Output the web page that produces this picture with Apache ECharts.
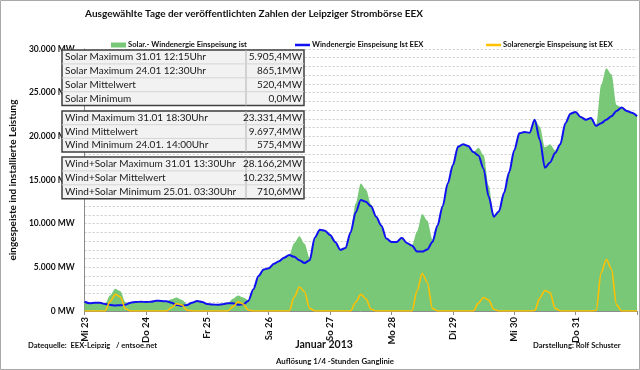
<!DOCTYPE html>
<html><head><meta charset="utf-8">
<script src="https://cdn.jsdelivr.net/npm/echarts@6/dist/echarts.min.js"></script>
<style>html,body{margin:0;padding:0;background:#fff}#c{width:640px;height:370px}</style>
</head><body><div id="c"></div>
<script>
// Day tick labels (x axis, one per day)
var dayLabels = ['Mi 23','Do 24','Fr 25','Sa 26','So 27','Mo 28','Di 29','Mi 30','Do 31',''];
var yTickLabels = ['0 MW','5.000 MW','10.000 MW','15.000 MW','20.000 MW','25.000 MW','30.000 MW'];
var stepsPerDay = 12; // 2-hour steps

// Wind feed-in (MW), every 2 hours from 23.01. 00:00 to 01.02. 00:00
var windMW = [
  1060, 880, 950, 950, 800, 700, 640, 660, 720, 950, 1030, 1060,
  1030, 1060, 1180, 1150, 1110, 950, 700, 580, 700, 950, 1150, 1030,
  800, 740, 720, 780, 880, 900, 720, 760, 1150, 2500, 4000, 4750,
  4900, 5400, 5700, 6100, 6400, 6200, 5800, 5500, 5800, 8400, 9300, 9200,
  8700, 7900, 7000, 7200, 9000, 11300, 12700, 12500, 12000, 10800, 9800, 8300,
  7900, 7900, 8400, 7800, 7500, 6800, 6800, 7050, 7900, 9800, 12000, 14600,
  16700, 18800, 19100, 18900, 18200, 17800, 16300, 13100, 10800, 11400, 13500, 15900,
  18400, 20350, 20500, 20400, 21900, 19600, 16400, 17000, 18100, 19100, 21500, 22600,
  22800, 22200, 21900, 22100, 21200, 21500, 21900, 22300, 22900, 23300, 22900, 22700,
  22300
];
// Solar feed-in (MW), same time steps
var solarMW = [
  0,0,0,0,0,1100,1900,1600,250,0,0,0,
  0,0,0,0,0,400,850,700,100,0,0,0,
  0,0,0,0,0,500,1050,800,120,0,0,0,
  0,0,0,0,0,1600,2750,2200,300,0,0,0,
  0,0,0,0,0,1000,1900,1400,200,0,0,0,
  0,0,0,0,0,2300,4300,3300,300,0,0,0,
  0,0,0,0,0,900,1550,1250,200,0,0,0,
  0,0,0,0,50,1500,2350,2100,300,0,0,0,
  0,0,0,0,50,4400,5900,4800,700,0,0,0,
  0
];

var seriesNames = ['Solar.- Windenergie Einspeisung ist','Windenergie Einspeisung Ist EEX','Solarenergie Einspeisung ist EEX'];

var tableSolar = [
  ['Solar Maximum 31.01 12:15Uhr','5.905,4MW'],
  ['Solar Maximum 24.01 12:30Uhr','865,1MW'],
  ['Solar Mittelwert','520,4MW'],
  ['Solar Minimum','0,0MW']
];
var tableWind = [
  ['Wind Maximum 31.01 18:30Uhr','23.331,4MW'],
  ['Wind Mittelwert','9.697,4MW'],
  ['Wind Minimum 24.01. 14:00Uhr','575,4MW']
];
var tableSum = [
  ['Wind+Solar Maximum 31.01 13:30Uhr','28.166,2MW'],
  ['Wind+Solar Mittelwert','10.232,5MW'],
  ['Wind+Solar Minimum 25.01. 03:30Uhr','710,6MW']
];

var categories = windMW.map(function(v,i){ return i % stepsPerDay === 0 ? dayLabels[i/stepsPerDay] : ''; });

var FONT = 'Lato';
var GREEN = '#78c878';
var BLUE = '#1010f0';
var GOLD = '#ffc000';

function tableGraphics(rows, x0, y0, rowH, x1, xDiv){
  var els = [];
  var h = rows.length*rowH;
  els.push({type:'rect', shape:{x:x0,y:y0,width:x1-x0,height:h}, style:{fill:'#f2f2f2', stroke:'#404040', lineWidth:1.5}, z:100});
  els.push({type:'line', shape:{x1:xDiv,y1:y0,x2:xDiv,y2:y0+h}, style:{stroke:'#b0b0b0', lineWidth:1}, z:101});
  for (var i=1;i<rows.length;i++){
    els.push({type:'line', shape:{x1:x0,y1:y0+i*rowH,x2:x1,y2:y0+i*rowH}, style:{stroke:'#d4d4d4', lineWidth:1}, z:101});
  }
  rows.forEach(function(r,i){
    var cy = y0 + i*rowH + rowH/2;
    els.push({type:'text', x:x0+3, y:cy, style:{text:r[0], font:'10px '+FONT, fill:'#1a1a1a', textVerticalAlign:'middle', textAlign:'left'}, z:102});
    els.push({type:'text', x:x1-2, y:cy, style:{text:r[1], font:'10px '+FONT, fill:'#1a1a1a', textVerticalAlign:'middle', textAlign:'right'}, z:102});
  });
  return els;
}

var chart = echarts.init(document.getElementById('c'), null, {renderer:'canvas'});
var graphics = [
  {type:'rect', shape:{x:0.5,y:0.5,width:639,height:369}, style:{fill:'none', stroke:'#a8a8a8', lineWidth:1}, z:0},
  {type:'text', x:254, y:14, style:{text:'Ausgewählte Tage der veröffentlichten Zahlen der Leipziger Strombörse EEX', font:'bold 10px '+FONT, fill:'#111', textAlign:'center', textVerticalAlign:'middle'}},
  {type:'text', x:28, y:346, style:{text:'Datequelle:  EEX-Leipzig   / entsoe.net', font:'bold 7.6px '+FONT, fill:'#111', textVerticalAlign:'middle'}},
  {type:'text', x:324, y:345, style:{text:'Januar 2013', font:'bold 10.5px '+FONT, fill:'#111', textAlign:'center', textVerticalAlign:'middle'}},
  {type:'text', x:533, y:346, style:{text:'Darstellung: Rolf Schuster', font:'bold 7.6px '+FONT, fill:'#111', textVerticalAlign:'middle'}},
  {type:'text', x:335, y:361, style:{text:'Auflösung 1/4 -Stunden Ganglinie', font:'bold 7.8px '+FONT, fill:'#111', textAlign:'center', textVerticalAlign:'middle'}}
].concat(tableGraphics(tableSolar, 62, 50, 13.9, 304, 246))
 .concat(tableGraphics(tableWind, 62, 111, 13.7, 304, 246))
 .concat(tableGraphics(tableSum, 62, 157, 13.9, 304, 246));

var legendBase = {top:36, itemHeight:5, itemWidth:15, itemGap:2, textStyle:{fontFamily:FONT, fontWeight:'bold', fontSize:7.6, color:'#111', padding:[0,0,0,-3]}, selectedMode:false};

chart.setOption({
  animation:false,
  textStyle:{fontFamily:FONT},
  grid:{left:62, right:3, top:49, bottom:59, containLabel:false},
  legend:[
    Object.assign({}, legendBase, {left:106, data:[{name:seriesNames[0], icon:'rect', itemStyle:{color:GREEN}}]}),
    Object.assign({}, legendBase, {left:290, itemHeight:2.5, data:[{name:seriesNames[1], icon:'rect', itemStyle:{color:BLUE}}]}),
    Object.assign({}, legendBase, {left:481, itemHeight:2.5, data:[{name:seriesNames[2], icon:'rect', itemStyle:{color:GOLD}}]})
  ],
  xAxis:{type:'category', data:categories, boundaryGap:false,
    axisLine:{show:true, lineStyle:{color:'#8c8c8c', width:1}},
    axisTick:{show:true, length:4, interval:stepsPerDay-1, lineStyle:{color:'#8c8c8c'}},
    splitLine:{show:false},
    axisLabel:{rotate:90, margin:6, interval:stepsPerDay-1, fontFamily:FONT, fontWeight:'bold', fontSize:9.5, color:'#111'}
  },
  yAxis:{type:'value', min:0, max:30000, interval:5000,
    name:'eingespeiste ind installierte Leistung', nameLocation:'middle', nameGap:49,
    nameTextStyle:{fontFamily:FONT, fontWeight:'bold', fontSize:10, color:'#111'},
    axisLine:{show:true, lineStyle:{color:'#8c8c8c'}},
    axisTick:{show:false},
    axisLabel:{fontFamily:FONT, fontWeight:'bold', fontSize:8.5, color:'#111', margin:10,
      formatter:function(v){ return yTickLabels[Math.round(v/5000)]; }},
    splitLine:{show:true, lineStyle:{color:'#cccccc', type:[2,2], width:1}},
    minorTick:{show:false, splitNumber:5},
    minorSplitLine:{show:true, lineStyle:{color:'#cccccc', type:[2,2], width:1}}
  },
  series:[
    {name:seriesNames[0], type:'line', stack:'total', data:windMW, symbol:'none', smooth:0.3, smoothMonotone:'x',
      lineStyle:{width:0}, areaStyle:{color:GREEN, opacity:1}, itemStyle:{color:GREEN}, z:1},
    {name:seriesNames[0], type:'line', stack:'total', data:solarMW, symbol:'none', smooth:0.3, smoothMonotone:'x',
      lineStyle:{width:0}, areaStyle:{color:GREEN, opacity:1}, itemStyle:{color:GREEN}, z:1},
    {name:seriesNames[1], type:'line', data:windMW, symbol:'none', smooth:0.3, smoothMonotone:'x',
      lineStyle:{color:BLUE, width:2}, itemStyle:{color:BLUE}, z:3},
    {name:seriesNames[2], type:'line', data:solarMW, symbol:'none', smooth:0.3, smoothMonotone:'x',
      lineStyle:{color:GOLD, width:1.6}, itemStyle:{color:GOLD}, z:4}
  ],
  graphic:graphics
});
</script>
</body></html>
